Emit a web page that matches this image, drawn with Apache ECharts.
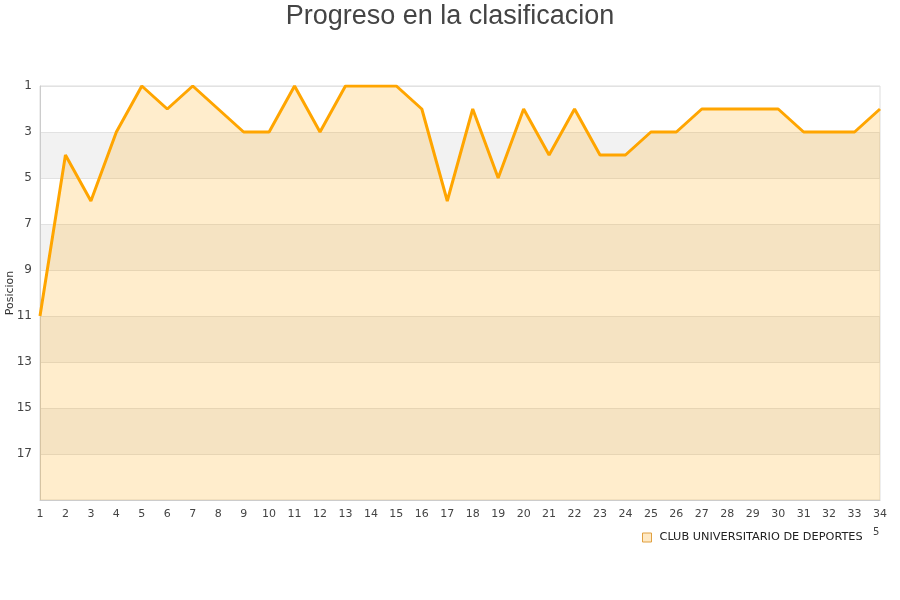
<!DOCTYPE html>
<html><head><meta charset="utf-8">
<script src="https://cdn.jsdelivr.net/npm/echarts@6/dist/echarts.min.js"></script>
<style>html,body{margin:0;padding:0;background:#fff}#c{width:900px;height:600px}</style>
</head><body><div id="c"></div>
<script>
var jornadas = [1,2,3,4,5,6,7,8,9,10,11,12,13,14,15,16,17,18,19,20,21,22,23,24,25,26,27,28,29,30,31,32,33,34];
var posiciones = [11,4,6,3,1,2,1,2,3,3,1,3,1,1,1,2,6,2,5,2,4,2,4,4,3,3,2,2,2,2,3,3,3,2];
var seriesName = 'CLUB UNIVERSITARIO DE DEPORTES';
var titleText = 'Progreso en la clasificacion';
var yName = 'Posicion';

var chart = echarts.init(document.getElementById('c'));
chart.setOption({
  animation: false,
  textStyle: {fontFamily: 'DejaVu Sans'},
  title: {text: titleText, left: 'center', top: -2,
    textStyle: {fontFamily: 'Liberation Sans', fontSize: 27, fontWeight: 'normal', color: '#444'}},
  grid: {left: 40, right: 20, top: 86, bottom: 100, containLabel: false, outerBoundsMode: 'none',
    show: true, borderColor: '#dddddd', borderWidth: 1, backgroundColor: 'transparent'},
  legend: {left: 637, top: 527, itemWidth: 9, itemHeight: 9, itemGap: 5, icon: 'rect',
    textStyle: {fontFamily: 'DejaVu Sans', fontSize: 11.3, color: '#222', padding: [0, 0, 0, 3]},
    data: [{name: seriesName, itemStyle: {color: '#ffe9c4', borderColor: '#e0a040', borderWidth: 1}}]},
  graphic: [{type: 'text', left: 873, top: 527, style: {text: '5', fontSize: 10, fill: '#444', fontFamily: 'DejaVu Sans'}}],
  xAxis: {type: 'category', data: jornadas, boundaryGap: false,
    axisLine: {lineStyle: {color: '#cccccc'}}, axisTick: {show: false},
    axisLabel: {color: '#444', fontSize: 11, margin: 9, interval: 0},
    splitLine: {show: false}},
  yAxis: {type: 'value', inverse: true, min: 1, max: 19, interval: 2,
    name: yName, nameLocation: 'middle', nameGap: 24, nameRotate: 90, nameMoveOverlap: false,
    nameTextStyle: {fontSize: 11, color: '#333'},
    axisLine: {show: true, lineStyle: {color: '#cccccc'}}, axisTick: {show: false},
    axisLabel: {color: '#444', fontSize: 12, margin: 8, formatter: function(v){return v >= 19 ? '' : v;}},
    splitLine: {show: true, lineStyle: {color: '#e2e2e2'}},
    splitArea: {show: true, areaStyle: {color: ['rgba(255,255,255,0)', 'rgba(0,0,0,0.05)']}}},
  series: [{
    name: seriesName, type: 'line', data: posiciones, symbol: 'none',
    lineStyle: {color: '#FFA500', width: 3}, itemStyle: {color: '#FFA500'},
    areaStyle: {color: 'rgba(255,165,0,0.2)', opacity: 1, origin: 'end'}
  }]
});
</script></body></html>
